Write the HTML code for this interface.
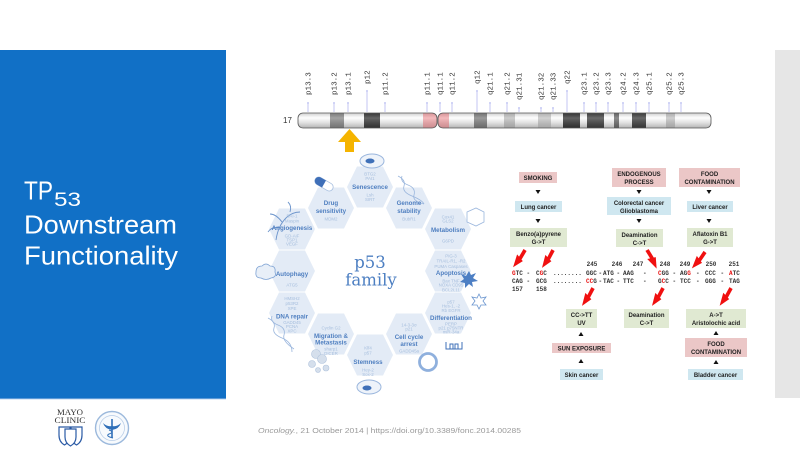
<!DOCTYPE html>
<html>
<head>
<meta charset="utf-8">
<style>
html,body{margin:0;padding:0;background:#fff;}
body{width:800px;height:450px;overflow:hidden;}
svg{display:block;}
.ht{font-family:"Liberation Sans",sans-serif;font-weight:bold;font-size:6.2px;fill:#4f7fc0;text-anchor:middle;}
.hg{font-family:"Liberation Sans",sans-serif;font-size:4.4px;fill:#a6bedd;text-anchor:middle;}
.bx{font-family:"Liberation Sans",sans-serif;font-weight:bold;font-size:6px;fill:#222;text-anchor:middle;}
.sq{font-family:"Liberation Mono",monospace;font-weight:bold;font-size:6px;fill:#333;}
.bl{font-family:"Liberation Mono",monospace;font-size:7.6px;fill:#333;}
</style>
</head>
<body>
<svg width="800" height="450" viewBox="0 0 800 450" xmlns="http://www.w3.org/2000/svg">
<defs>
  <linearGradient id="chg" x1="0" y1="0" x2="0" y2="1">
    <stop offset="0" stop-color="#d8d8d8"/>
    <stop offset="0.35" stop-color="#ffffff"/>
    <stop offset="0.65" stop-color="#f4f4f4"/>
    <stop offset="1" stop-color="#c8c8c8"/>
  </linearGradient>
  <linearGradient id="shade" x1="0" y1="0" x2="0" y2="1">
    <stop offset="0" stop-color="#000" stop-opacity="0.12"/>
    <stop offset="0.4" stop-color="#fff" stop-opacity="0.25"/>
    <stop offset="1" stop-color="#000" stop-opacity="0.18"/>
  </linearGradient>
  <clipPath id="chc">
    <rect x="298" y="113" width="139" height="15" rx="5"/>
    <rect x="438" y="113" width="273" height="15" rx="5"/>
  </clipPath>
  <g id="bolt">
    <polygon points="-1.8,0 1.9,0 2.3,10 -1.3,10" fill="#f01010"/>
    <polygon points="-4.2,8 4.2,10.5 -0.6,21" fill="#f01010"/>
  </g>
</defs>

<!-- left blue panel -->
<rect x="0" y="50" width="226" height="348" fill="#1170c6"/>
<rect x="0" y="398" width="226" height="1.2" fill="#5c9ad8"/>
<text x="24" y="199.3" font-family="Liberation Sans, sans-serif" font-size="26" fill="#fff" textLength="29" lengthAdjust="spacingAndGlyphs">TP</text>
<text x="54" y="206" font-family="Liberation Sans, sans-serif" font-size="19" fill="#fff" textLength="27" lengthAdjust="spacingAndGlyphs">53</text>
<text x="24" y="233.5" font-family="Liberation Sans, sans-serif" font-size="26" fill="#fff" textLength="153" lengthAdjust="spacingAndGlyphs">Downstream</text>
<text x="24" y="264.5" font-family="Liberation Sans, sans-serif" font-size="26" fill="#fff" textLength="154" lengthAdjust="spacingAndGlyphs">Functionality</text>

<!-- right gray panel -->
<rect x="775" y="50" width="25" height="348" fill="#e6e6e6"/>

<!-- chromosome labels -->
<g stroke="#b4b8f0" stroke-width="0.8">
  <line x1="308" y1="103" x2="308" y2="112"/><line x1="334" y1="103" x2="334" y2="112"/>
  <line x1="348" y1="103" x2="348" y2="112"/><line x1="367" y1="91" x2="367" y2="112"/>
  <line x1="385" y1="103" x2="385" y2="112"/><line x1="427" y1="103" x2="427" y2="112"/>
  <line x1="440" y1="103" x2="440" y2="112"/><line x1="452" y1="103" x2="452" y2="112"/>
  <line x1="477" y1="91" x2="477" y2="112"/><line x1="490" y1="103" x2="490" y2="112"/>
  <line x1="507" y1="103" x2="507" y2="112"/><line x1="519" y1="108" x2="519" y2="112"/>
  <line x1="541" y1="108" x2="541" y2="112"/><line x1="553" y1="108" x2="553" y2="112"/>
  <line x1="567" y1="91" x2="567" y2="112"/><line x1="584" y1="103" x2="584" y2="112"/>
  <line x1="596" y1="103" x2="596" y2="112"/><line x1="608" y1="103" x2="608" y2="112"/>
  <line x1="623" y1="103" x2="623" y2="112"/><line x1="636" y1="103" x2="636" y2="112"/>
  <line x1="649" y1="103" x2="649" y2="112"/><line x1="669" y1="103" x2="669" y2="112"/>
  <line x1="681" y1="103" x2="681" y2="112"/>
</g>
<g fill="#c4c8f4">
  <circle cx="308" cy="103" r="1"/><circle cx="334" cy="103" r="1"/><circle cx="348" cy="103" r="1"/>
  <circle cx="367" cy="91" r="1"/><circle cx="385" cy="103" r="1"/><circle cx="427" cy="103" r="1"/>
  <circle cx="440" cy="103" r="1"/><circle cx="452" cy="103" r="1"/><circle cx="477" cy="91" r="1"/>
  <circle cx="490" cy="103" r="1"/><circle cx="507" cy="103" r="1"/><circle cx="519" cy="108" r="1"/>
  <circle cx="541" cy="108" r="1"/><circle cx="553" cy="108" r="1"/><circle cx="567" cy="91" r="1"/>
  <circle cx="584" cy="103" r="1"/><circle cx="596" cy="103" r="1"/><circle cx="608" cy="103" r="1"/>
  <circle cx="623" cy="103" r="1"/><circle cx="636" cy="103" r="1"/><circle cx="649" cy="103" r="1"/>
  <circle cx="669" cy="103" r="1"/><circle cx="681" cy="103" r="1"/>
</g>
<g class="bl">
  <text transform="translate(310.5,95) rotate(-90)">p13.3</text>
  <text transform="translate(336.5,95) rotate(-90)">p13.2</text>
  <text transform="translate(350.5,95) rotate(-90)">p13.1</text>
  <text transform="translate(369.5,84) rotate(-90)">p12</text>
  <text transform="translate(387.5,95) rotate(-90)">p11.2</text>
  <text transform="translate(429.5,95) rotate(-90)">p11.1</text>
  <text transform="translate(442.5,95) rotate(-90)">q11.1</text>
  <text transform="translate(454.5,95) rotate(-90)">q11.2</text>
  <text transform="translate(479.5,84) rotate(-90)">q12</text>
  <text transform="translate(492.5,95) rotate(-90)">q21.1</text>
  <text transform="translate(509.5,95) rotate(-90)">q21.2</text>
  <text transform="translate(521.5,100) rotate(-90)">q21.31</text>
  <text transform="translate(543.5,100) rotate(-90)">q21.32</text>
  <text transform="translate(555.5,100) rotate(-90)">q21.33</text>
  <text transform="translate(569.5,84) rotate(-90)">q22</text>
  <text transform="translate(586.5,95) rotate(-90)">q23.1</text>
  <text transform="translate(598.5,95) rotate(-90)">q23.2</text>
  <text transform="translate(610.5,95) rotate(-90)">q23.3</text>
  <text transform="translate(625.5,95) rotate(-90)">q24.2</text>
  <text transform="translate(638.5,95) rotate(-90)">q24.3</text>
  <text transform="translate(651.5,95) rotate(-90)">q25.1</text>
  <text transform="translate(671.5,95) rotate(-90)">q25.2</text>
  <text transform="translate(683.5,95) rotate(-90)">q25.3</text>
</g>
<text x="283" y="123" font-family="Liberation Sans, sans-serif" font-size="8" fill="#333">17</text>

<!-- chromosome body -->
<g clip-path="url(#chc)">
  <rect x="290" y="110" width="430" height="20" fill="url(#chg)"/>
  <rect x="330" y="113" width="14" height="15" fill="#858585"/>
  <rect x="364" y="113" width="16" height="15" fill="#333"/>
  <rect x="423" y="113" width="14" height="15" fill="#f2a4a8"/>
  <rect x="438" y="113" width="11" height="15" fill="#f2a4a8"/>
  <rect x="474" y="113" width="13" height="15" fill="#7a7a7a"/>
  <rect x="504" y="113" width="11" height="15" fill="#bdbdbd"/>
  <rect x="538" y="113" width="13" height="15" fill="#c4c4c4"/>
  <rect x="563" y="113" width="17" height="15" fill="#2f2f2f"/>
  <rect x="587" y="113" width="17" height="15" fill="#3a3a3a"/>
  <rect x="614" y="113" width="5" height="15" fill="#666"/>
  <rect x="632" y="113" width="14" height="15" fill="#383838"/>
  <rect x="666" y="113" width="9" height="15" fill="#c0c0c0"/>
  <rect x="290" y="110" width="430" height="20" fill="url(#shade)"/>
</g>
<rect x="298" y="113" width="139" height="15" rx="5" fill="none" stroke="#555" stroke-width="0.8"/>
<rect x="438" y="113" width="273" height="15" rx="5" fill="none" stroke="#555" stroke-width="0.8"/>

<!-- yellow arrow -->
<polygon points="349.5,129 361,142 354,142 354,152 345,152 345,142 338,142" fill="#f5b400"/>

<!-- hexagon ring -->
<g fill="#e3ebf6">
  <polygon points="269,229 279,208.5 305,208.5 315,229 305,249.5 279,249.5"/>
  <polygon points="269,271 279,250.5 305,250.5 315,271 305,291.5 279,291.5"/>
  <polygon points="269,313 279,292.5 305,292.5 315,313 305,333.5 279,333.5"/>
  <polygon points="308,208 318,187.5 344,187.5 354,208 344,228.5 318,228.5"/>
  <polygon points="308,334 318,313.5 344,313.5 354,334 344,354.5 318,354.5"/>
  <polygon points="347,187 357,166.5 383,166.5 393,187 383,207.5 357,207.5"/>
  <polygon points="347,355 357,334.5 383,334.5 393,355 383,375.5 357,375.5"/>
  <polygon points="386,208 396,187.5 422,187.5 432,208 422,228.5 396,228.5"/>
  <polygon points="386,334 396,313.5 422,313.5 432,334 422,354.5 396,354.5"/>
  <polygon points="425,229 435,208.5 461,208.5 471,229 461,249.5 435,249.5"/>
  <polygon points="425,271 435,250.5 461,250.5 471,271 461,291.5 435,291.5"/>
  <polygon points="425,313 435,292.5 461,292.5 471,313 461,333.5 435,333.5"/>
</g>

<!-- decorations -->
<g>
  <ellipse cx="372" cy="161" rx="12" ry="7" fill="#eef3fa" stroke="#9ab6dd" stroke-width="1"/>
  <ellipse cx="370" cy="161" rx="4.5" ry="2.5" fill="#3f70b8"/>
  <ellipse cx="369" cy="387" rx="12" ry="7" fill="#eef3fa" stroke="#9ab6dd" stroke-width="1"/>
  <ellipse cx="367" cy="388" rx="4.5" ry="2.5" fill="#3f70b8"/>
  <g transform="rotate(30 324 184)">
    <rect x="314" y="180" width="20" height="8" rx="4" fill="#fff" stroke="#a6bedf" stroke-width="0.8"/>
    <path d="M324,180 h-6 a4,4 0 0 0 0,8 h6 z" fill="#3f6fb8"/>
  </g>
  <path d="M398,176 q8,4 6,10 q-2,6 8,10 q10,4 12,8" fill="none" stroke="#9ab6dd" stroke-width="0.8"/>
  <path d="M402,176 q-2,6 6,9 q8,3 6,10 q-2,6 10,9" fill="none" stroke="#9ab6dd" stroke-width="0.8"/>
  <path d="M268,318 q8,4 6,10 q-2,6 8,10 q10,4 10,14" fill="none" stroke="#9ab6dd" stroke-width="0.8"/>
  <path d="M272,316 q-2,6 6,9 q8,3 6,10 q-2,6 10,14" fill="none" stroke="#9ab6dd" stroke-width="0.8"/>
  <polygon points="469,271 471,275 476,273 473,278 478,281 472,282 473,287 469,284 465,288 465,283 460,282 464,279 461,274 466,276" fill="#4d7fc4"/>
  <polygon points="479,294 481,298 486,297 483,301 486,305 481,305 479,309 477,305 472,305 475,301 472,297 477,298" fill="none" stroke="#6a95cf" stroke-width="0.8"/>
  <circle cx="428" cy="362" r="8.5" fill="none" stroke="#8fb0dd" stroke-width="2.8"/>
  <path d="M446,342 v7 h16 v-7 M450,349 v-5 h3 v5 M455,349 v-5 h3 v5" fill="none" stroke="#3f70b8" stroke-width="1"/>
  <path d="M256,272 q0,-6 6,-6 q4,-4 8,0 q6,0 5,6 q2,5 -4,6 q-5,3 -10,0 q-6,0 -5,-6 z" fill="#e8eff8" stroke="#7fa3d4" stroke-width="0.8"/>
  <g fill="#d5dfec" stroke="#b0c3dc" stroke-width="0.6">
    <circle cx="316" cy="354" r="4.5"/><circle cx="322" cy="359" r="4.5"/>
    <circle cx="312" cy="364" r="3.5"/><circle cx="326" cy="368" r="3"/><circle cx="318" cy="370" r="2.5"/>
  </g>
  <path d="M276,240 q2,-14 10,-22 M282,222 q-6,-8 -12,-8 M286,218 q6,-6 14,-6 M280,228 q-8,-2 -12,4 M290,212 q2,-6 -2,-10" fill="none" stroke="#6d95cc" stroke-width="0.9"/>
  <polygon points="467,212 476,208 484,212 484,222 476,226 467,222" fill="none" stroke="#9ab6dd" stroke-width="0.8"/>
</g>

<!-- hex text -->
<text class="hg" x="292" y="217.5">BAI-1</text>
<text class="hg" x="292" y="222.5">Maspin</text>
<text class="ht" x="292" y="230">Angiogenesis</text>
<text class="hg" x="292" y="237.5">GD-AiF</text>
<text class="hg" x="292" y="241.5">TSP1</text>
<text class="hg" x="292" y="245.5">VEGF</text>

<text class="ht" x="292" y="276">Autophagy</text>
<text class="hg" x="292" y="286.5">ATG5</text>

<text class="hg" x="292" y="300">HMSH2</text>
<text class="hg" x="292" y="305">p53R2</text>
<text class="hg" x="292" y="310">XPE</text>
<text class="ht" x="292" y="318.5">DNA repair</text>
<text class="hg" x="292" y="324">GADD45</text>
<text class="hg" x="292" y="328">PCNA</text>
<text class="hg" x="292" y="332.5">XPC</text>

<text class="ht" x="331" y="205">Drug</text>
<text class="ht" x="331" y="213">sensitivity</text>
<text class="hg" x="331" y="220.5">MDM2</text>

<text class="hg" x="331" y="329.5">Cyclin G2</text>
<text class="ht" x="331" y="338">Migration &amp;</text>
<text class="ht" x="331" y="344.5">Metastasis</text>
<text class="hg" x="331" y="350.5">sharp1</text>
<text class="hg" x="331" y="355">DICER</text>

<text class="hg" x="370" y="175.5">BTG2</text>
<text class="hg" x="370" y="180">PAI1</text>
<text class="ht" x="370" y="189">Senescence</text>
<text class="hg" x="370" y="196.5">Lsh</text>
<text class="hg" x="370" y="201">SIRT</text>

<text class="hg" x="368" y="349.5">Klf4</text>
<text class="hg" x="368" y="354.5">p57</text>
<text class="ht" x="368" y="364">Stemness</text>
<text class="hg" x="368" y="371.5">Hey-2</text>
<text class="hg" x="368" y="376">Sox-2</text>

<text class="ht" x="409" y="205">Genome</text>
<text class="ht" x="409" y="213">stability</text>
<text class="hg" x="409" y="220.5">BubR1</text>

<text class="hg" x="409" y="326.5">14-3-3σ</text>
<text class="hg" x="409" y="330.5">p21</text>
<text class="ht" x="409" y="339">Cell cycle</text>
<text class="ht" x="409" y="346">arrest</text>
<text class="hg" x="409" y="352.5">GADD45a</text>

<text class="hg" x="448" y="218.5">Cox41</text>
<text class="hg" x="448" y="222.5">GLS2</text>
<text class="ht" x="448" y="232">Metabolism</text>
<text class="hg" x="448" y="242.5">G6PD</text>

<text class="hg" x="451" y="257.5">PIG-3</text>
<text class="hg" x="451" y="262.5">TRAIL-R1, -R2</text>
<text class="hg" x="451" y="268">PUMA   Caspases</text>
<text class="ht" x="451" y="275">Apoptosis</text>
<text class="hg" x="451" y="282.5">Bax   TNF</text>
<text class="hg" x="451" y="286.5">NOXA   CD95</text>
<text class="hg" x="451" y="291.5">BCL2L11</text>

<text class="hg" x="451" y="303.5">p57</text>
<text class="hg" x="451" y="307.5">Hes-1, -2</text>
<text class="hg" x="451" y="312">Rb   EGFR</text>
<text class="ht" x="451" y="320">Differentiation</text>
<text class="hg" x="451" y="325.5">PERP</text>
<text class="hg" x="451" y="329.5">p21  p75NTR</text>
<text class="hg" x="451" y="333.5">miR-34a</text>

<text x="370" y="268" font-family="DejaVu Serif, serif" font-size="16.5" fill="#4d7fc2" text-anchor="middle">p53</text>
<text x="371" y="285.5" font-family="DejaVu Serif, serif" font-size="16.5" fill="#4d7fc2" text-anchor="middle">family</text>

<!-- right diagram boxes -->
<g>
  <rect x="519" y="172" width="38" height="11" fill="#ebc7c7"/>
  <rect x="515" y="201" width="47" height="11" fill="#cfe7f0"/>
  <rect x="510" y="228" width="57" height="19" fill="#e0e9d2"/>
  <rect x="612" y="168" width="54" height="19" fill="#ebc7c7"/>
  <rect x="607" y="197" width="64" height="18" fill="#cfe7f0"/>
  <rect x="616" y="229" width="47" height="18" fill="#e0e9d2"/>
  <rect x="679" y="168" width="61" height="19" fill="#ebc7c7"/>
  <rect x="687" y="201" width="46" height="11" fill="#cfe7f0"/>
  <rect x="687" y="228" width="46" height="19" fill="#e0e9d2"/>
  <rect x="566" y="309" width="31" height="19" fill="#e0e9d2"/>
  <rect x="624" y="309" width="45" height="19" fill="#e0e9d2"/>
  <rect x="686" y="309" width="60" height="19" fill="#e0e9d2"/>
  <rect x="552" y="343" width="59" height="10" fill="#ebc7c7"/>
  <rect x="685" y="338" width="62" height="19" fill="#ebc7c7"/>
  <rect x="560" y="369" width="43" height="11" fill="#cfe7f0"/>
  <rect x="688" y="369" width="55" height="11" fill="#cfe7f0"/>
</g>
<g class="bx">
  <text x="538" y="180">SMOKING</text>
  <text x="538.5" y="209">Lung cancer</text>
  <text x="538.5" y="236">Benzo(a)pyrene</text>
  <text x="538.5" y="244">G-&gt;T</text>
  <text x="639" y="176">ENDOGENOUS</text>
  <text x="639" y="184">PROCESS</text>
  <text x="639" y="205">Colorectal cancer</text>
  <text x="639" y="213">Glioblastoma</text>
  <text x="639.5" y="237">Deamination</text>
  <text x="639.5" y="245">C-&gt;T</text>
  <text x="709.5" y="176">FOOD</text>
  <text x="709.5" y="184">CONTAMINATION</text>
  <text x="710" y="209">Liver cancer</text>
  <text x="710" y="236">Aflatoxin B1</text>
  <text x="710" y="244">G-&gt;T</text>
  <text x="581.5" y="317">CC-&gt;TT</text>
  <text x="581.5" y="325">UV</text>
  <text x="646.5" y="317">Deamination</text>
  <text x="646.5" y="325">C-&gt;T</text>
  <text x="716" y="317">A-&gt;T</text>
  <text x="716" y="325">Aristolochic acid</text>
  <text x="581.5" y="350.5">SUN EXPOSURE</text>
  <text x="716" y="346">FOOD</text>
  <text x="716" y="354">CONTAMINATION</text>
  <text x="581.5" y="377">Skin cancer</text>
  <text x="715.5" y="377">Bladder cancer</text>
</g>
<g fill="#111">
  <polygon points="535.5,190 540.5,190 538,194"/>
  <polygon points="535.5,219 540.5,219 538,223"/>
  <polygon points="636.5,190 641.5,190 639,194"/>
  <polygon points="636.5,219 641.5,219 639,223"/>
  <polygon points="706.5,190 711.5,190 709,194"/>
  <polygon points="706.5,219 711.5,219 709,223"/>
  <polygon points="578.5,336 583.5,336 581,332"/>
  <polygon points="713.5,335 718.5,335 716,331"/>
  <polygon points="578.5,363 583.5,363 581,359"/>
  <polygon points="713.5,364 718.5,364 716,360"/>
</g>

<!-- sequence -->
<g class="sq">
  <text x="592" y="266" text-anchor="middle">245</text>
  <text x="617" y="266" text-anchor="middle">246</text>
  <text x="638" y="266" text-anchor="middle">247</text>
  <text x="665" y="266" text-anchor="middle">248</text>
  <text x="685" y="266" text-anchor="middle">249</text>
  <text x="711" y="266" text-anchor="middle">250</text>
  <text x="734" y="266" text-anchor="middle">251</text>

  <text x="512" y="275"><tspan fill="#e81010">G</tspan>TC</text>
  <text x="526.5" y="275">-</text>
  <text x="536" y="275">C<tspan fill="#e81010">G</tspan>C</text>
  <text x="553" y="275">........</text>
  <text x="586" y="275">GGC</text>
  <text x="598.5" y="275">-</text>
  <text x="603" y="275">ATG</text>
  <text x="616.5" y="275">-</text>
  <text x="623" y="275">AAG</text>
  <text x="643" y="275">-</text>
  <text x="658" y="275"><tspan fill="#e81010">C</tspan>GG</text>
  <text x="672.5" y="275">-</text>
  <text x="680" y="275">AG<tspan fill="#e81010">G</tspan></text>
  <text x="696" y="275">-</text>
  <text x="705" y="275">CCC</text>
  <text x="720.5" y="275">-</text>
  <text x="729" y="275"><tspan fill="#e81010">A</tspan>TC</text>

  <text x="512" y="283">CAG</text>
  <text x="526.5" y="283">-</text>
  <text x="536" y="283">GCG</text>
  <text x="553" y="283">........</text>
  <text x="586" y="283"><tspan fill="#e81010">CC</tspan>G</text>
  <text x="598.5" y="283">-</text>
  <text x="603" y="283">TAC</text>
  <text x="616.5" y="283">-</text>
  <text x="623" y="283">TTC</text>
  <text x="643" y="283">-</text>
  <text x="658" y="283">G<tspan fill="#e81010">C</tspan>C</text>
  <text x="672.5" y="283">-</text>
  <text x="680" y="283">TCC</text>
  <text x="696" y="283">-</text>
  <text x="705" y="283">GGG</text>
  <text x="720.5" y="283">-</text>
  <text x="729" y="283">TAG</text>

  <text x="512" y="291">157</text>
  <text x="536" y="291">158</text>
</g>

<!-- lightning bolts -->
<use href="#bolt" transform="translate(525,250) rotate(33)"/>
<use href="#bolt" transform="translate(553,250) rotate(30)"/>
<use href="#bolt" transform="translate(647,250) rotate(-29)"/>
<use href="#bolt" transform="translate(705,252) rotate(37)"/>
<use href="#bolt" transform="translate(593,288) rotate(30)"/>
<use href="#bolt" transform="translate(663,288) rotate(30)"/>
<use href="#bolt" transform="translate(731,288) rotate(31)"/>

<!-- logos -->
<text x="70" y="415" font-family="Liberation Serif, serif" font-size="8.5" fill="#333" text-anchor="middle" textLength="26" lengthAdjust="spacingAndGlyphs">MAYO</text>
<text x="70" y="423" font-family="Liberation Serif, serif" font-size="8.5" fill="#333" text-anchor="middle" textLength="31" lengthAdjust="spacingAndGlyphs">CLINIC</text>
<g fill="#fff" stroke="#2a5aa5" stroke-width="1.2">
  <path d="M59,427 h11 v8 q0,7 -5.5,10 q-5.5,-3 -5.5,-10 z"/>
  <path d="M71,427 h11 v8 q0,7 -5.5,10 q-5.5,-3 -5.5,-10 z"/>
  <path d="M65,429 h11 v8 q0,6 -5.5,9 q-5.5,-3 -5.5,-9 z"/>
</g>
<circle cx="112" cy="428" r="16.5" fill="#f7fafd" stroke="#9cb9dc" stroke-width="1.4"/>
<circle cx="112" cy="428" r="12.5" fill="none" stroke="#b4cae6" stroke-width="0.7"/>
<path d="M103,423 q4,4 9,3 q5,1 9,-3 q-2,6 -9,7 q-7,-1 -9,-7 z" fill="#2f6fb8"/>
<rect x="111.2" y="419" width="1.6" height="19" fill="#2f6fb8"/>
<path d="M109,430 q6,2 0,4 q-4,2 4,4" fill="none" stroke="#2f6fb8" stroke-width="1"/>

<!-- citation -->
<text x="258" y="433" font-family="Liberation Sans, sans-serif" font-size="7.4" fill="#9a9a9a" textLength="263" lengthAdjust="spacingAndGlyphs"><tspan font-style="italic">Oncology.</tspan>, 21 October 2014 | https://doi.org/10.3389/fonc.2014.00285</text>
</svg>
</body>
</html>
